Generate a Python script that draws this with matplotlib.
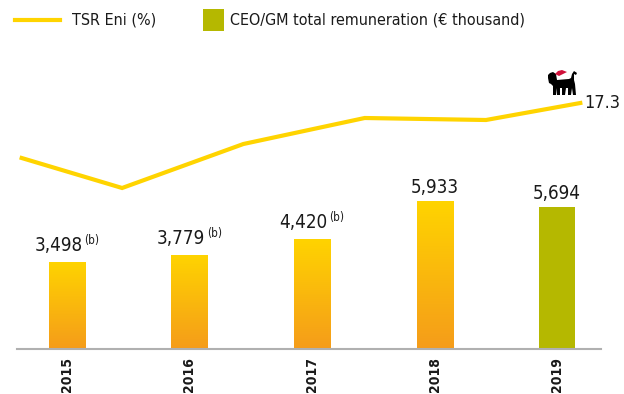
import numpy as np
import matplotlib
matplotlib.use("Agg")
import matplotlib.pyplot as plt
from matplotlib.patches import Rectangle, Polygon
from matplotlib.colors import LinearSegmentedColormap
from matplotlib.lines import Line2D

plt.rcParams['font.family'] = ['DejaVu Sans']
plt.rcParams['font.stretch'] = 'condensed'

years = ['2015', '2016', '2017', '2018', '2019']
remuneration = [3498, 3779, 4420, 5933, 5694]
rem_labels = ['3,498', '3,779', '4,420', '5,933', '5,694']
rem_notes = ['(b)', '(b)', '(b)', '', '']

# TSR line sits on its own positions between the bars
tsr_x = [-0.37, 0.45, 1.44, 2.43, 3.42, 4.19]
tsr = [6.3, 0.3, 9.1, 14.3, 13.9, 17.3]

YELLOW = '#ffd400'
ORANGE = '#f59c1a'
OLIVE = '#b5b800'
INK = '#1a1a1a'

fig = plt.figure(figsize=(6.24, 3.94), dpi=100)
ax = fig.add_axes([17/624, 45/394, 584/624, 309/394])
ax.set_xlim(-0.408, 4.359)
ax.set_ylim(0, 12390)

grad = LinearSegmentedColormap.from_list('g', [ORANGE, YELLOW])
gimg = np.linspace(0, 1, 256).reshape(-1, 1)
width = 0.294
for i, v in enumerate(remuneration):
    if i < 4:
        r = Rectangle((i - width/2, 0), width, v, facecolor='none', edgecolor='none')
        ax.add_patch(r)
        im = ax.imshow(gimg, cmap=grad, origin='lower', aspect='auto',
                       extent=(i - width/2, i + width/2, 0, v), zorder=2)
        im.set_clip_path(r)
    else:
        ax.bar(i, v, width=width, color=OLIVE, zorder=2)
    dx = -6 if rem_notes[i] else 0
    dy = 8 if rem_notes[i] else 6
    t = ax.annotate(rem_labels[i], (i, v), xytext=(dx, dy), textcoords='offset points',
                    ha='center', va='baseline', fontsize=13.5, color=INK)
    if rem_notes[i]:
        ax.annotate(rem_notes[i], xy=(1, 1), xycoords=t, xytext=(1, 1),
                    textcoords='offset points', ha='left', va='top', fontsize=8.5, color=INK)

ax.set_xticks(range(len(years)))
ax.set_xticklabels(years, rotation=90, fontsize=10, fontweight='bold')
ax.tick_params(axis='x', length=0, pad=5.5, colors=INK)
ax.set_yticks([])
for s in ['top', 'right', 'left']:
    ax.spines[s].set_visible(False)
ax.spines['bottom'].set_color('#b0b0b0')
ax.spines['bottom'].set_linewidth(1.5)

ax2 = ax.twinx()
ax2.set_ylim(-31.9, 29.9)
ax2.plot(tsr_x, tsr, color=YELLOW, lw=3, solid_joinstyle='miter', zorder=3)
ax2.annotate(f'{tsr[-1]:.1f}', (tsr_x[-1], tsr[-1]), xytext=(2.5, 0), textcoords='offset points',
             ha='left', va='center', fontsize=13, color=INK)
ax2.set_yticks([])
for s in ax2.spines.values():
    s.set_visible(False)

# six-legged dog mark above the last point (pixel outline, y pointing down)
lx, ly = 549, 70
dog = [(1, 3), (4, 2), (7, 4), (8, 10), (20, 9), (22, 8), (23, 4), (25, 1), (28, 3), (27, 5),
       (25, 4), (25, 7), (25, 10), (26, 14), (27, 25), (24, 25), (23, 18), (22, 25), (19, 25),
       (19, 18), (17, 18), (16, 25), (13, 25), (13, 18), (11, 18), (11, 25), (8, 25), (8, 18),
       (7, 25), (4, 25), (4, 16), (2, 14), (0, 13), (-1, 8), (-1, 5)]
flame = [(6, 4), (9, 1), (13, 0), (18, 2), (14, 4), (10, 6)]


def to_fig(pts):
    return [(lx + x, 394 - (ly + y)) for x, y in pts]


fig.patches.append(Polygon(to_fig(dog), closed=True, transform=None,
                           facecolor='black', edgecolor='none'))
fig.patches.append(Polygon(to_fig(flame), closed=True, transform=None,
                           facecolor='#d0103a', edgecolor='none'))

# legend row
fig.add_artist(Line2D([15/624, 60/624], [1 - 20/394, 1 - 20/394], color=YELLOW, lw=3))
fig.text(72/624, 1 - 20/394, 'TSR Eni (%)', fontsize=11.5, va='center', ha='left', color=INK)
fig.add_artist(Rectangle((203/624, 1 - 31/394), 21/624, 22/394, facecolor=OLIVE,
                         edgecolor='none', transform=fig.transFigure))
fig.text(230/624, 1 - 20/394, 'CEO/GM total remuneration (€ thousand)', fontsize=11.5,
         va='center', ha='left', color=INK)

fig.savefig('out.png', dpi=100)
